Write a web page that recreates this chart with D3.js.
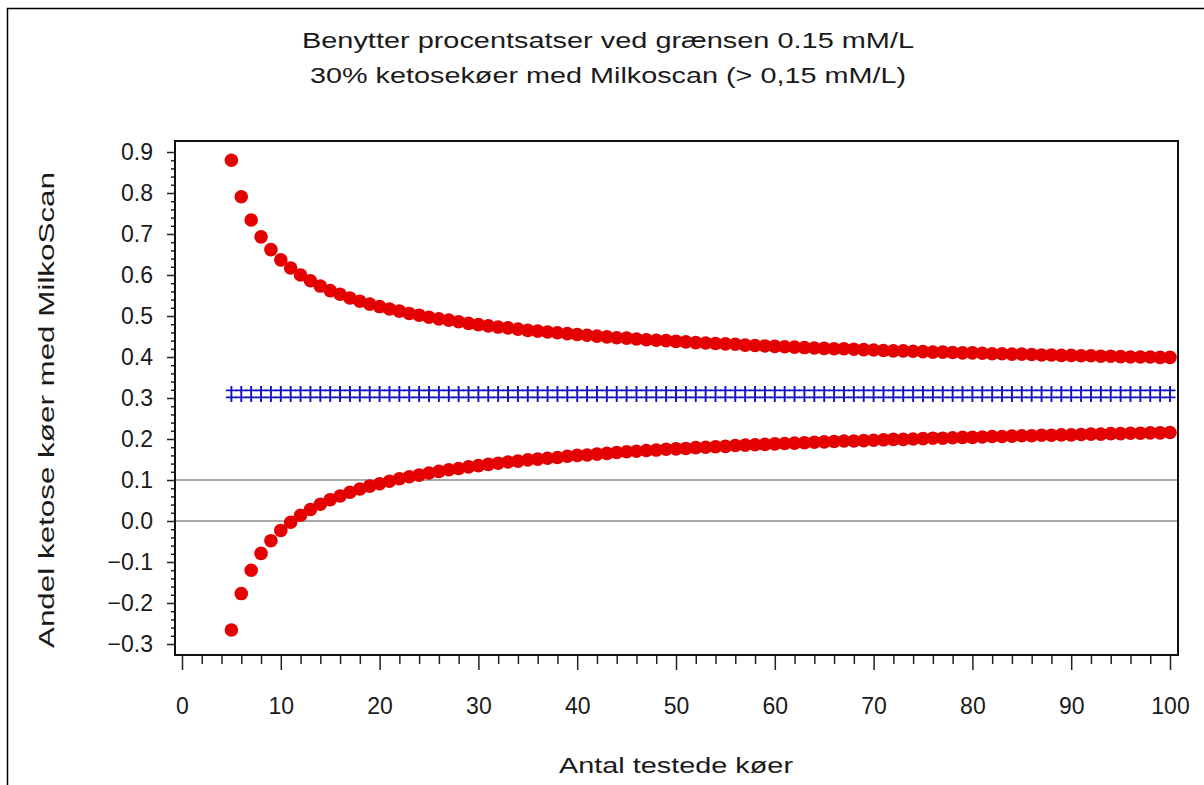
<!DOCTYPE html>
<html>
<head>
<meta charset="utf-8">
<script src="https://cdn.jsdelivr.net/npm/d3@7"></script>
<style>
  body { margin: 0; background: #fff; }
  svg text { font-family: "Liberation Sans", Arial, sans-serif; fill: #1a1a1a; }
</style>
</head>
<body>
<svg id="drawing_region"></svg>
<script>
// number of tested cows
const antal = [5,6,7,8,9,10,11,12,13,14,15,16,17,18,19,20,21,22,23,24,25,26,27,28,29,30,
  31,32,33,34,35,36,37,38,39,40,41,42,43,44,45,46,47,48,49,50,51,52,53,54,55,56,57,58,59,60,
  61,62,63,64,65,66,67,68,69,70,71,72,73,74,75,76,77,78,79,80,81,82,83,84,85,86,87,88,89,90,
  91,92,93,94,95,96,97,98,99,100]

// upper limit (red)
const upper = [0.880,0.791,0.734,0.693,0.662,0.637,0.617,0.600,0.586,0.573,0.562,0.553,0.544,0.536,0.529,0.523,
  0.517,0.512,0.506,0.502,0.497,0.493,0.490,0.486,0.482,0.479,0.476,0.473,0.471,0.468,0.465,0.463,0.461,0.459,
  0.457,0.455,0.453,0.451,0.449,0.447,0.446,0.444,0.442,0.441,0.440,0.438,0.437,0.435,0.434,0.433,0.432,0.431,
  0.429,0.428,0.427,0.426,0.425,0.424,0.423,0.422,0.421,0.420,0.420,0.419,0.418,0.417,0.416,0.415,0.415,0.414,
  0.413,0.412,0.412,0.411,0.410,0.410,0.409,0.408,0.408,0.407,0.407,0.406,0.405,0.405,0.404,0.404,0.403,0.403,
  0.402,0.402,0.401,0.400,0.400,0.400,0.399,0.399]

// lower limit (red)
const lower = [-0.266,-0.177,-0.120,-0.079,-0.048,-0.023,-0.003,0.014,0.028,0.041,0.052,0.061,0.070,0.078,0.085,0.091,
  0.097,0.103,0.108,0.112,0.117,0.121,0.125,0.128,0.132,0.135,0.138,0.141,0.144,0.146,0.149,0.151,0.153,0.155,
  0.158,0.160,0.161,0.163,0.165,0.167,0.169,0.170,0.172,0.173,0.175,0.176,0.177,0.179,0.180,0.181,0.182,0.184,
  0.185,0.186,0.187,0.188,0.189,0.190,0.191,0.192,0.193,0.194,0.195,0.195,0.196,0.197,0.198,0.199,0.199,0.200,
  0.201,0.202,0.202,0.203,0.204,0.204,0.205,0.206,0.206,0.207,0.208,0.208,0.209,0.209,0.210,0.210,0.211,0.212,
  0.212,0.213,0.213,0.214,0.214,0.215,0.215,0.216]

// observed share (blue)
const andel = [0.31,0.31,0.31,0.31,0.31,0.31,0.31,0.31,0.31,0.31,0.31,0.31,0.31,0.31,0.31,0.31,0.31,0.31,0.31,0.31,
  0.31,0.31,0.31,0.31,0.31,0.31,0.31,0.31,0.31,0.31,0.31,0.31,0.31,0.31,0.31,0.31,0.31,0.31,0.31,0.31,0.31,0.31,
  0.31,0.31,0.31,0.31,0.31,0.31,0.31,0.31,0.31,0.31,0.31,0.31,0.31,0.31,0.31,0.31,0.31,0.31,0.31,0.31,0.31,0.31,
  0.31,0.31,0.31,0.31,0.31,0.31,0.31,0.31,0.31,0.31,0.31,0.31,0.31,0.31,0.31,0.31,0.31,0.31,0.31,0.31,0.31,0.31,
  0.31,0.31,0.31,0.31,0.31,0.31,0.31,0.31,0.31,0.31]

const refLines = [0.1, 0.0]
const xTicks = [0,10,20,30,40,50,60,70,80,90,100]
const yTicks = [-0.3,-0.2,-0.1,0.0,0.1,0.2,0.3,0.4,0.5,0.6,0.7,0.8,0.9]

const titles = ['Benytter procentsatser ved grænsen 0.15 mM/L', '30% ketosekøer med Milkoscan (> 0,15 mM/L)']
const xLabel = 'Antal testede køer'
const yLabel = 'Andel ketose køer med MilkoScan'

class LimitChart{
    constructor(config){
        this.config = config
        this.init()
    }

    init(){
        let self = this
        let c = self.config

        self.svg = d3.select(c.parent)
            .attr('width', c.width)
            .attr('height', c.height)

        self.x = d3.scaleLinear().domain([0, 100]).range([182, 1170])
        self.y = d3.scaleLinear().domain([-0.3, 0.9]).range([644, 152])
    }

    render(){
        let self = this
        let c = self.config
        let svg = self.svg
        const font = '"Liberation Sans", Arial, sans-serif'

        // outer border (only left + top fall inside the window)
        svg.append('rect')
            .attr('x', 7.5).attr('y', 8.5)
            .attr('width', 1300).attr('height', 900)
            .attr('fill', 'none').attr('stroke', '#000').attr('stroke-width', 1.5)

        // titles
        svg.selectAll('.title').data(titles).enter()
            .append('text')
            .attr('x', 608)
            .attr('y', (d, i) => 40 + i * 35)
            .attr('text-anchor', 'middle')
            .attr('dominant-baseline', 'central')
            .attr('font-size', 22)
            .attr('textLength', (d, i) => i == 0 ? 612 : 596)
            .attr('lengthAdjust', 'spacingAndGlyphs')
            .text(d => d)

        // reference lines
        svg.selectAll('.ref').data(refLines).enter()
            .append('line')
            .attr('x1', c.frame.left).attr('x2', c.frame.right)
            .attr('y1', d => self.y(d)).attr('y2', d => self.y(d))
            .attr('stroke', '#555').attr('stroke-width', 1.2)

        // x axis: minor then major ticks
        let minorX = d3.range(0, 101, 2).filter(v => v % 10 != 0)
        svg.append('g')
            .attr('transform', `translate(0,${c.frame.bottom + 1})`)
            .call(d3.axisBottom(self.x).tickValues(minorX).tickSize(8).tickFormat(''))
            .call(g => g.select('.domain').remove())
        svg.append('g')
            .attr('transform', `translate(0,${c.frame.bottom + 1})`)
            .call(d3.axisBottom(self.x).tickValues(xTicks).tickSize(14).tickPadding(28))
            .call(g => g.select('.domain').remove())
            .call(g => g.selectAll('text').attr('font-size', 23).attr('font-family', font).attr('fill', '#1a1a1a'))

        // y axis: minor then major ticks
        let minorY = d3.range(-15, 46).filter(v => v % 5 != 0).map(v => v / 50)
        svg.append('g')
            .attr('transform', `translate(${c.frame.left},0)`)
            .call(d3.axisLeft(self.y).tickValues(minorY).tickSize(4).tickFormat(''))
            .call(g => g.select('.domain').remove())
        svg.append('g')
            .attr('transform', `translate(${c.frame.left},0)`)
            .call(d3.axisLeft(self.y).tickValues(yTicks).tickSize(8).tickPadding(14).tickFormat(d3.format('.1f')))
            .call(g => g.select('.domain').remove())
            .call(g => g.selectAll('text').attr('font-size', 23).attr('font-family', font).attr('fill', '#1a1a1a'))

        svg.selectAll('.tick line').attr('stroke', '#222').attr('stroke-width', 1.5)

        // frame
        svg.append('rect')
            .attr('x', c.frame.left).attr('y', c.frame.top)
            .attr('width', c.frame.right - c.frame.left)
            .attr('height', c.frame.bottom - c.frame.top)
            .attr('fill', 'none').attr('stroke', '#111').attr('stroke-width', 2)

        // axis labels
        svg.append('text')
            .attr('x', 676).attr('y', 765)
            .attr('text-anchor', 'middle').attr('dominant-baseline', 'central')
            .attr('font-size', 22)
            .attr('textLength', 234).attr('lengthAdjust', 'spacingAndGlyphs')
            .text(xLabel)
        svg.append('text')
            .attr('transform', 'translate(46,410) rotate(-90)')
            .attr('text-anchor', 'middle').attr('dominant-baseline', 'central')
            .attr('font-size', 22)
            .attr('textLength', 476).attr('lengthAdjust', 'spacingAndGlyphs')
            .text(yLabel)

        // blue markers
        let blue = svg.append('g').attr('stroke', '#1212c0').attr('stroke-width', 1.9).attr('fill', 'none')
        blue.selectAll('path').data(antal).enter()
            .append('path')
            .attr('transform', (d, i) => `translate(${self.x(d)},${self.y(andel[i])})`)
            .attr('d', 'M0,-8V8M-5.5,-3.5H5.5M-5.5,3.5H5.5')

        // red limits
        let red = svg.append('g').attr('fill', '#e40000')
        red.selectAll('.up').data(antal).enter()
            .append('circle')
            .attr('cx', d => self.x(d))
            .attr('cy', (d, i) => self.y(upper[i]))
            .attr('r', 6.8)
        red.selectAll('.lo').data(antal).enter()
            .append('circle')
            .attr('cx', d => self.x(d))
            .attr('cy', (d, i) => self.y(lower[i]))
            .attr('r', 6.8)
    }
}

const chart = new LimitChart({
    parent: '#drawing_region',
    width: 1204,
    height: 785,
    frame: {left: 175, right: 1178, top: 141, bottom: 655}
})
chart.render()
</script>
</body>
</html>
